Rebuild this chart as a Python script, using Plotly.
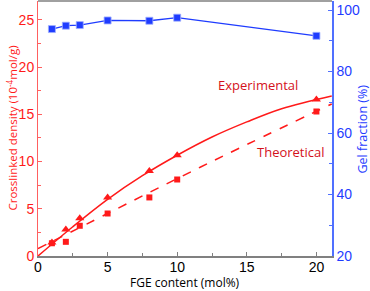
import plotly.graph_objects as go

# Data
fge = [1, 2, 3, 5, 8, 10, 20]
gel_fraction = [93.8, 94.9, 95.1, 96.6, 96.5, 97.5, 91.6]
cd_experimental = [1.42, 2.8, 4.0, 6.2, 9.0, 10.67, 16.57]
cd_theoretical = [1.35, 1.5, 3.2, 4.5, 6.2, 8.1, 15.3]

# Fit curves
fit_exp_x = [0, 2.5, 5, 7.5, 10, 12.5, 15, 17.5, 21.1]
fit_exp_y = [0.0, 3.1, 6.0, 8.5, 10.67, 12.6, 14.2, 15.6, 16.95]
fit_theo_x = [0, 5, 10, 15, 21.1]
fit_theo_y = [0.78, 4.5, 8.2, 11.8, 16.1]

RED = "#ff1a1a"
BLUE = "#1f3cff"
DARKRED = "#d4111b"

fig = go.Figure()
fig.add_trace(go.Scatter(x=fit_exp_x, y=fit_exp_y, mode="lines", line=dict(color=RED, width=1.5, shape="spline"), showlegend=False, hoverinfo="skip"))
fig.add_trace(go.Scatter(x=fit_theo_x, y=fit_theo_y, mode="lines", line=dict(color=RED, width=1.5, dash="dash", shape="spline"), showlegend=False, hoverinfo="skip"))
fig.add_trace(go.Scatter(x=fge, y=cd_experimental, mode="markers", marker=dict(symbol="triangle-up", size=8, color=RED), showlegend=False))
fig.add_trace(go.Scatter(x=fge, y=cd_theoretical, mode="markers", marker=dict(symbol="square", size=6, color=RED), showlegend=False))
fig.add_trace(go.Scatter(x=fge, y=gel_fraction, mode="lines+markers", yaxis="y2",
                         line=dict(color=BLUE, width=1.3),
                         marker=dict(symbol="square", size=7, color=BLUE, line=dict(color="#9fb0ff", width=0.8)),
                         showlegend=False))

tickfont = dict(family="Liberation Sans, Arial", size=14)
titlefont = "Open Sans"
PW, PH = 294, 255
fig.update_layout(
    width=370, height=291,
    margin=dict(l=38, r=38, t=1, b=35),
    plot_bgcolor="white", paper_bgcolor="white",
    xaxis=dict(range=[0, 21.12], tickvals=[0, 5, 10, 15, 20], ticks="inside", ticklen=4, tickcolor="#808080",
               minor=dict(tickvals=[2.5, 7.5, 12.5, 17.5], ticks="inside", ticklen=3, tickcolor="#808080"),
               showline=True, linecolor="#808080", linewidth=2, showgrid=False, zeroline=False,
               ticklabelstandoff=-3,
               tickfont=dict(color="black", **tickfont)),
    yaxis=dict(range=[0, 27], tickvals=[0, 5, 10, 15, 20, 25], ticks="inside", ticklen=4, tickcolor="#ff6060",
               minor=dict(tickvals=[2.5, 7.5, 12.5, 17.5, 22.5], ticks="inside", ticklen=3, tickcolor="#ff6060"),
               showline=True, linecolor="#ff6060", linewidth=1, showgrid=False, zeroline=False,
               tickfont=dict(color=RED, **tickfont)),
    yaxis2=dict(range=[20, 102.93], overlaying="y", side="right", tickvals=[20, 40, 60, 80, 100], ticks="inside", ticklen=4,
                tickcolor="#5070ff",
                minor=dict(tickvals=[30, 50, 70, 90], ticks="inside", ticklen=3, tickcolor="#5070ff"),
                showline=True, linecolor="#5070ff", linewidth=1.5, showgrid=False, zeroline=False,
                tickfont=dict(color=BLUE, **tickfont)),
    shapes=[dict(type="line", xref="paper", yref="paper", x0=0, x1=1, y0=1, y1=1, line=dict(color="#808080", width=1.5))],
    annotations=[
        dict(x=15.8, y=18.1, text="Experimental", showarrow=False, font=dict(family=titlefont, size=13, color=DARKRED)),
        dict(x=18.2, y=11.0, text="Theoretical", showarrow=False, font=dict(family=titlefont, size=13, color=DARKRED)),
        dict(xref="paper", yref="paper", x=0.5, y=-26 / PH, xanchor="center", yanchor="middle",
             text="FGE content (mol%)", showarrow=False, font=dict(family=titlefont, size=12, color="black")),
        dict(xref="paper", yref="paper", x=(12 - 38) / PW, y=0.5, xanchor="center", yanchor="middle", textangle=-90,
             text="Crosslinked density (10<sup>-4</sup>mol/g)", showarrow=False, font=dict(family=titlefont, size=11.5, color=RED)),
        dict(xref="paper", yref="paper", x=(362 - 38) / PW, y=0.5, xanchor="center", yanchor="middle", textangle=-90,
             text="Gel fraction (%)", showarrow=False, font=dict(family=titlefont, size=12.5, color=BLUE)),
    ],
)
fig.write_html("out.html", config={"displayModeBar": False},
               post_script="document.body.style.margin='0';document.body.style.overflow='hidden';")
